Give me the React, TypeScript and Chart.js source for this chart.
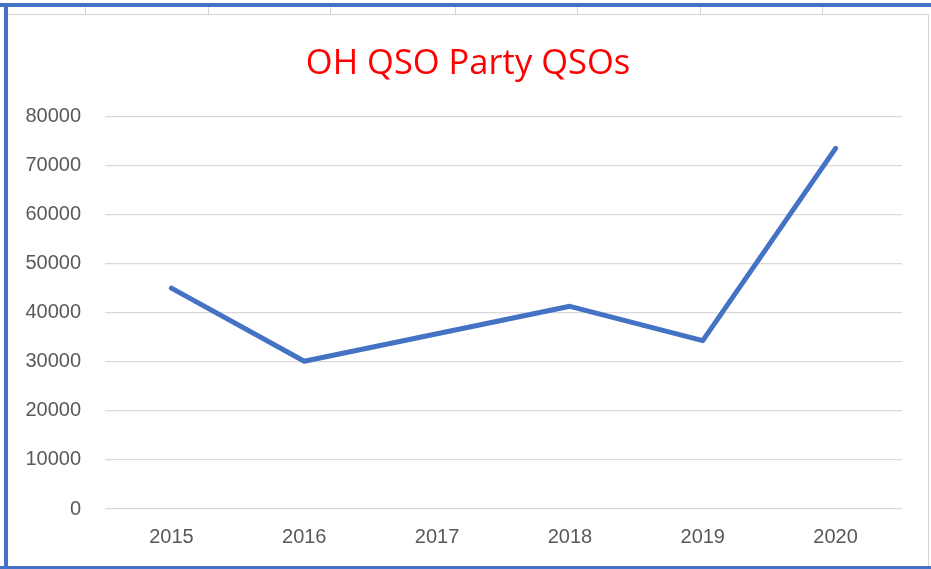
import React, { useEffect, useRef } from "react";
import { Chart, registerables } from "chart.js";

Chart.register(...registerables);

const years: string[] = ["2015", "2016", "2017", "2018", "2019", "2020"];
const qsos: number[] = [45000, 30100, 35700, 41300, 34300, 73500];
const titleText = "OH QSO Party QSOs";
const cellSeparators: number[] = [85, 208, 330, 455, 577, 700, 822];

const titleShift = {
  id: "titleShift",
  afterLayout(chart: any) {
    const t = chart.titleBlock;
    if (t) {
      t.left += 4.5;
      t.right += 4.5;
    }
  },
};

export default function App() {
  const canvasRef = useRef<HTMLCanvasElement | null>(null);

  useEffect(() => {
    const prevMargin = document.body.style.margin;
    document.body.style.margin = "0";
    const ctx = canvasRef.current!.getContext("2d")!;
    const chart = new Chart(ctx, {
      type: "line",
      data: {
        labels: years,
        datasets: [
          {
            label: "QSOs",
            data: qsos,
            borderColor: "#4472C4",
            backgroundColor: "#4472C4",
            borderWidth: 5,
            pointRadius: 0,
            pointHoverRadius: 0,
            tension: 0,
            borderCapStyle: "round",
            borderJoinStyle: "round",
            fill: false,
          },
        ],
      },
      options: {
        animation: false,
        responsive: false,
        maintainAspectRatio: false,
        layout: { padding: { top: 10, left: 25, right: 29, bottom: 4 } },
        plugins: {
          legend: { display: false },
          tooltip: { enabled: false },
          title: {
            display: true,
            text: titleText,
            color: "#FF0000",
            font: { family: "'Open Sans', sans-serif", size: 34.5, weight: "normal", lineHeight: 1.2 },
            padding: { top: 33, bottom: 32 },
          },
        },
        scales: {
          x: {
            type: "category",
            offset: true,
            grid: { display: false, drawTicks: false },
            border: { display: false },
            ticks: {
              color: "#595959",
              font: { family: "'Liberation Sans', Arial, sans-serif", size: 20 },
              padding: 16,
              maxRotation: 0,
            },
          },
          y: {
            min: 0,
            max: 80000,
            grid: { color: "#d9d9d9", lineWidth: 1.3, drawTicks: false },
            border: { display: false },
            ticks: {
              stepSize: 10000,
              color: "#595959",
              font: { family: "'Liberation Sans', Arial, sans-serif", size: 20 },
              padding: 24,
              callback: (v: any) => String(v),
            },
            afterFit: (scale: any) => {
              scale.width = 80;
            },
          },
        },
      },
      plugins: [titleShift],
    });
    return () => {
      chart.destroy();
      document.body.style.margin = prevMargin;
    };
  }, []);

  return (
    <div style={{ position: "relative", width: 931, height: 569, background: "#fff", overflow: "hidden" }}>
      <canvas ref={canvasRef} width={931} height={569} style={{ position: "absolute", left: 0, top: 0, width: 931, height: 569 }} />
      <div style={{ position: "absolute", left: 8, top: 7, width: 923, height: 7, background: "#fff" }} />
      <div style={{ position: "absolute", left: 8, top: 14, width: 923, height: 1, background: "#d4d4d4" }} />
      {cellSeparators.map((x) => (
        <div key={x} style={{ position: "absolute", left: x, top: 7, width: 1, height: 7, background: "#d4d4d4" }} />
      ))}
      <div style={{ position: "absolute", left: 928, top: 14, width: 1, height: 552, background: "#d4d4d4" }} />
      <div style={{ position: "absolute", left: 929, top: 14, width: 2, height: 552, background: "#fff" }} />
      <div style={{ position: "absolute", left: 0, top: 0, width: 931, height: 3, background: "#fff" }} />
      <div style={{ position: "absolute", left: 0, top: 3, width: 931, height: 4, background: "#4472C4" }} />
      <div style={{ position: "absolute", left: 4, top: 3, width: 4, height: 566, background: "#4472C4" }} />
      <div style={{ position: "absolute", left: 0, top: 566, width: 931, height: 3, background: "#4472C4" }} />
    </div>
  );
}
